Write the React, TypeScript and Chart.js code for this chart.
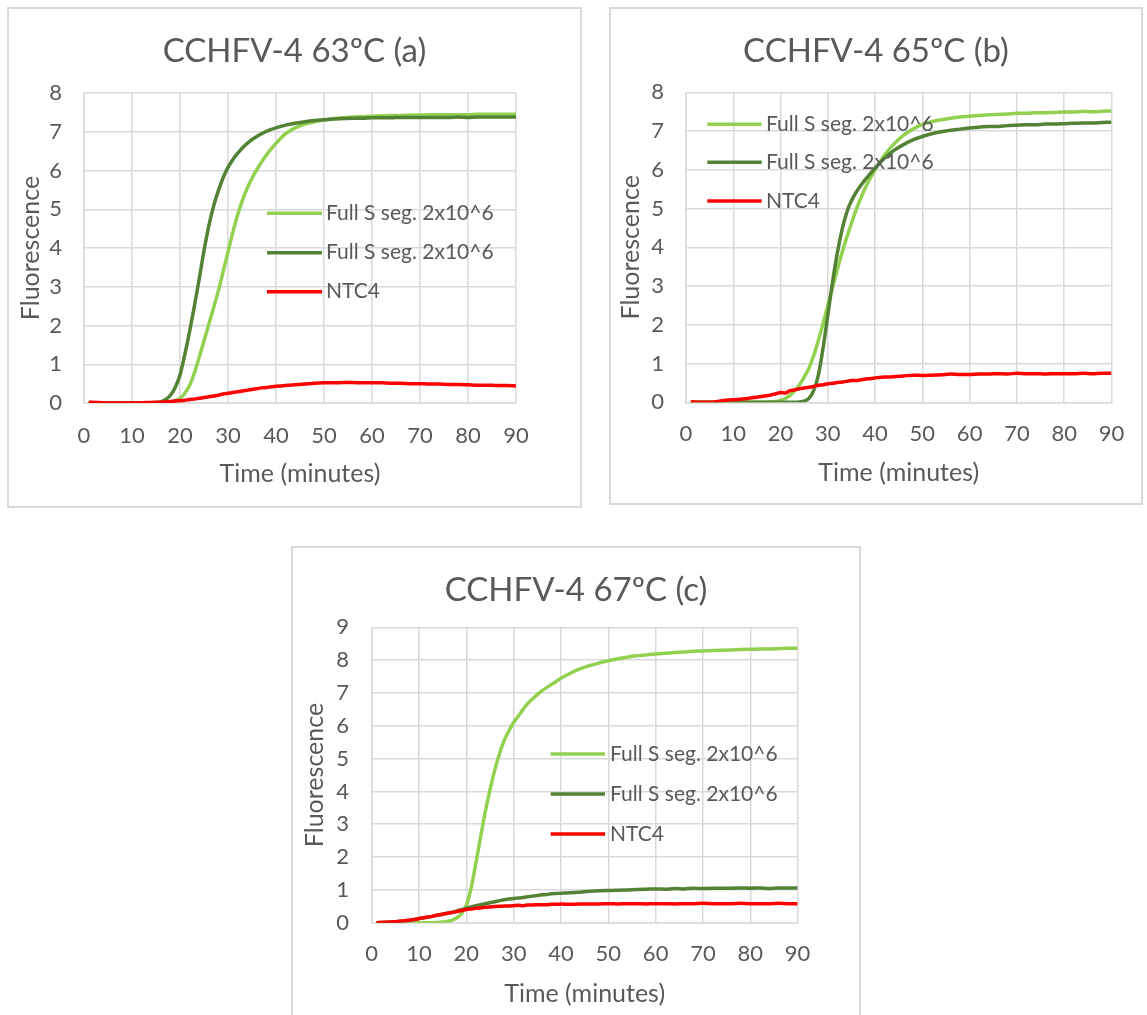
import React, { useEffect, useRef } from 'react';
import { Chart, registerables } from 'chart.js';

Chart.register(...registerables);

// ---------- data ----------
const TIME = [1, 3, 5, 7, 9, 11, 13, 15,
  16, 17, 18, 19, 20, 21, 22, 23, 24, 25,
  26, 27, 28, 29, 30, 31, 32, 33, 34, 35,
  36, 37, 38, 39, 40,
  42, 44, 46, 48, 50, 52, 54, 56, 58, 60,
  62, 64, 66, 68, 70, 72, 74, 76, 78, 80,
  82, 84, 86, 88, 90];

const SERIES_LABELS = ['Full S seg. 2x10^6', 'Full S seg. 2x10^6', 'NTC4'];
const TITLES = ['CCHFV-4 63ºC (a)', 'CCHFV-4 65ºC (b)', 'CCHFV-4 67ºC (c)'];
const X_TITLE = 'Time (minutes)';
const Y_TITLE = 'Fluorescence';
const X_MAX = 90;
const X_STEP = 10;
const Y_MAX = [8, 8, 9];

const A_LIGHT = [0.01, 0, 0, 0, 0, 0, 0, 0,
  0, 0.01, 0.02, 0.06, 0.12, 0.25, 0.45, 0.78, 1.18, 1.6,
  2.03, 2.46, 2.9, 3.4, 3.9, 4.4, 4.85, 5.23, 5.54, 5.8,
  6.02, 6.22, 6.4, 6.56, 6.7,
  6.95, 7.1, 7.2, 7.26, 7.3, 7.34, 7.36, 7.38, 7.39, 7.4,
  7.41, 7.42, 7.42, 7.43, 7.43, 7.44, 7.44, 7.44, 7.44, 7.44,
  7.45, 7.45, 7.45, 7.45, 7.45];
const A_DARK = [0.01, 0, 0, 0, 0, 0, 0, 0.01,
  0.03, 0.09, 0.2, 0.4, 0.72, 1.25, 1.85, 2.5, 3.2, 3.93,
  4.57, 5.08, 5.48, 5.82, 6.08, 6.28, 6.44, 6.58, 6.7, 6.8,
  6.88, 6.95, 7.01, 7.06, 7.1,
  7.17, 7.22, 7.26, 7.29, 7.31, 7.33, 7.34, 7.35, 7.35, 7.36,
  7.36, 7.36, 7.37, 7.37, 7.37, 7.37, 7.37, 7.37, 7.38, 7.37,
  7.38, 7.38, 7.38, 7.38, 7.38];
const A_RED = [0.02, 0.01, 0, 0, 0, 0, 0.01, 0.02,
  0.02, 0.03, 0.04, 0.05, 0.06, 0.07, 0.09, 0.1, 0.12, 0.14,
  0.16, 0.18, 0.2, 0.23, 0.25, 0.27, 0.29, 0.31, 0.33, 0.35,
  0.37, 0.39, 0.4, 0.42, 0.43,
  0.45, 0.47, 0.49, 0.51, 0.52, 0.52, 0.53, 0.53, 0.52, 0.52,
  0.52, 0.51, 0.51, 0.5, 0.5, 0.49, 0.49, 0.48, 0.48, 0.47,
  0.46, 0.46, 0.45, 0.45, 0.44];

const B_LIGHT = [0, 0, 0, 0, 0, 0, 0, 0,
  0, 0, 0.01, 0.02, 0.05, 0.1, 0.18, 0.3, 0.45, 0.65,
  0.88, 1.2, 1.6, 2.03, 2.5, 2.97, 3.42, 3.85, 4.25, 4.62,
  4.97, 5.28, 5.55, 5.79, 6.0,
  6.38, 6.67, 6.89, 7.05, 7.17, 7.24, 7.29, 7.33, 7.36, 7.38,
  7.4, 7.42, 7.43, 7.44, 7.46, 7.46, 7.47, 7.47, 7.48, 7.49,
  7.49, 7.51, 7.5, 7.51, 7.52];
const B_DARK = [0, 0, 0, 0, 0, 0, 0, 0,
  0, 0, 0, 0, 0, 0, 0, 0, 0.01, 0.03,
  0.1, 0.3, 0.7, 1.4, 2.25, 3.1, 3.85, 4.45, 4.9, 5.2,
  5.42, 5.6, 5.76, 5.9, 6.05,
  6.3, 6.5, 6.65, 6.77, 6.86, 6.93, 6.98, 7.02, 7.05, 7.08,
  7.1, 7.12, 7.12, 7.14, 7.15, 7.16, 7.16, 7.18, 7.18, 7.19,
  7.2, 7.21, 7.21, 7.22, 7.23];
const B_RED = [0.01, 0, 0, 0.03, 0.06, 0.07, 0.1, 0.13,
  0.15, 0.17, 0.19, 0.22, 0.25, 0.24, 0.3, 0.32, 0.35, 0.37,
  0.39, 0.41, 0.44, 0.45, 0.48, 0.49, 0.51, 0.52, 0.54, 0.56,
  0.56, 0.58, 0.6, 0.61, 0.63,
  0.65, 0.66, 0.68, 0.7, 0.69, 0.7, 0.71, 0.73, 0.72, 0.72,
  0.73, 0.73, 0.74, 0.73, 0.75, 0.74, 0.74, 0.73, 0.74, 0.74,
  0.74, 0.75, 0.74, 0.75, 0.75];

const C_LIGHT = [0, 0, 0, 0, 0, 0, 0, 0.02,
  0.04, 0.08, 0.15, 0.28, 0.52, 1.05, 1.8, 2.6, 3.38, 4.05,
  4.65, 5.15, 5.55, 5.85, 6.1, 6.3, 6.5, 6.68, 6.82, 6.95,
  7.07, 7.17, 7.26, 7.35, 7.45,
  7.6, 7.73, 7.83, 7.91, 7.98, 8.04, 8.09, 8.13, 8.16, 8.19,
  8.21, 8.23, 8.25, 8.27, 8.28, 8.29, 8.3, 8.31, 8.32, 8.33,
  8.34, 8.34, 8.35, 8.36, 8.36];
const C_DARK = [0, 0.01, 0.03, 0.06, 0.1, 0.15, 0.2, 0.26,
  0.29, 0.32, 0.36, 0.4, 0.44, 0.48, 0.52, 0.55, 0.58, 0.61,
  0.64, 0.67, 0.7, 0.72, 0.74, 0.75, 0.77, 0.79, 0.81, 0.83,
  0.85, 0.86, 0.88, 0.89, 0.9,
  0.91, 0.93, 0.96, 0.97, 0.98, 0.99, 1.0, 1.01, 1.02, 1.03,
  1.02, 1.04, 1.03, 1.05, 1.04, 1.05, 1.05, 1.05, 1.06, 1.05,
  1.06, 1.04, 1.06, 1.06, 1.06];
const C_RED = [0, 0.01, 0.03, 0.06, 0.1, 0.15, 0.2, 0.26,
  0.29, 0.31, 0.34, 0.37, 0.4, 0.42, 0.44, 0.45, 0.47, 0.48,
  0.49, 0.5, 0.51, 0.51, 0.52, 0.53, 0.52, 0.54, 0.54, 0.55,
  0.55, 0.55, 0.56, 0.56, 0.57,
  0.56, 0.57, 0.57, 0.57, 0.58, 0.57, 0.58, 0.58, 0.57, 0.58,
  0.58, 0.57, 0.58, 0.58, 0.59, 0.58, 0.58, 0.58, 0.59, 0.58,
  0.58, 0.58, 0.59, 0.58, 0.58];

const SERIES = [
  [A_LIGHT, A_DARK, A_RED],
  [B_LIGHT, B_DARK, B_RED],
  [C_LIGHT, C_DARK, C_RED],
];

// ---------- styles ----------
const COLORS = ['#92D050', '#548235', '#FF0000'];
const TEXT = '#595959';
const GRID = '#d9d9d9';
const FAMILY = 'Lato, "Open Sans", sans-serif';
const TITLE_SIZE = 33;
const AXIS_TITLE_SIZE = 25;
const TICK_SIZE = 22;
const LEGEND_SIZE = 21;
const LINE_W = 3.5;

type Layout = {
  left: number; top: number; w: number; h: number;
  boxW: number; boxH: number;
  L: number; R: number; T: number; B: number;
  titleY: number; xTickOff: number; xTitleY: number;
  yTickGap: number; yTitleX: number;
  lx0: number; lx1: number; ltx: number; rows: number[];
};

const LAYOUTS: Layout[] = [
  { left: 7, top: 7, w: 575, h: 500, boxW: 575, boxH: 501,
    L: 77, R: 509, T: 86, B: 396, titleY: 44, xTickOff: 33, xTitleY: 467,
    yTickGap: 22, yTitleX: 24, lx0: 260, lx1: 315, ltx: 319, rows: [206.3, 245.7, 284.7] },
  { left: 609, top: 7, w: 534, h: 498, boxW: 534, boxH: 498,
    L: 77, R: 506, T: 85.3, B: 395.3, titleY: 44, xTickOff: 32, xTitleY: 466,
    yTickGap: 22, yTitleX: 22, lx0: 98.3, lx1: 152.7, ltx: 157, rows: [117.3, 155.3, 194] },
  { left: 291, top: 546, w: 570, h: 469, boxW: 570, boxH: 480,
    L: 80.7, R: 506.6, T: 81.3, B: 376.7, titleY: 44, xTickOff: 31.5, xTitleY: 448,
    yTickGap: 22.7, yTitleX: 24, lx0: 259.7, lx1: 314, ltx: 319, rows: [208, 248, 288] },
];

const manualLegend = {
  id: 'manualLegend',
  afterDatasetsDraw(chart: any, _args: any, opts: any) {
    const ctx = chart.ctx;
    ctx.save();
    chart.data.datasets.forEach((ds: any, i: number) => {
      const y = opts.rows[i];
      ctx.strokeStyle = ds.borderColor;
      ctx.lineWidth = LINE_W;
      ctx.lineCap = 'butt';
      ctx.beginPath();
      ctx.moveTo(opts.x0, y);
      ctx.lineTo(opts.x1, y);
      ctx.stroke();
      ctx.fillStyle = TEXT;
      ctx.font = `${LEGEND_SIZE}px ${FAMILY}`;
      ctx.textBaseline = 'middle';
      ctx.textAlign = 'left';
      ctx.fillText(ds.label, opts.tx, y);
    });
    ctx.restore();
  },
};

function FluoChart({ index }: { index: number }) {
  const ref = useRef<HTMLCanvasElement | null>(null);
  const lay = LAYOUTS[index];

  useEffect(() => {
    if (!ref.current) return;
    const vals = SERIES[index];
    const datasets = SERIES_LABELS.map((label, i) => ({
      label,
      data: TIME.map((t, k) => ({ x: t, y: vals[i][k] })),
      borderColor: COLORS[i],
      backgroundColor: COLORS[i],
      borderWidth: LINE_W,
      pointRadius: 0,
      fill: false,
      cubicInterpolationMode: 'monotone' as const,
      order: 2 - i,
    }));
    const titlePadTop = lay.titleY - 0.6 * TITLE_SIZE;
    const titlePadBottom = lay.T - titlePadTop - 1.2 * TITLE_SIZE;
    const chart = new Chart(ref.current, {
      type: 'line',
      data: { datasets },
      plugins: [manualLegend],
      options: {
        responsive: false,
        animation: false,
        events: [],
        layout: { padding: 0 },
        plugins: {
          legend: { display: false },
          tooltip: { enabled: false },
          title: {
            display: true,
            text: TITLES[index],
            color: TEXT,
            font: { family: FAMILY, size: TITLE_SIZE, weight: 'normal', lineHeight: 1.2 },
            padding: { top: titlePadTop, bottom: titlePadBottom },
          },
          manualLegend: { x0: lay.lx0, x1: lay.lx1, tx: lay.ltx, rows: lay.rows },
        } as any,
        scales: {
          x: {
            type: 'linear',
            min: 0,
            max: X_MAX,
            ticks: {
              stepSize: X_STEP,
              color: TEXT,
              font: { family: FAMILY, size: TICK_SIZE, lineHeight: 1.2 },
              padding: lay.xTickOff - 0.6 * TICK_SIZE,
              maxRotation: 0,
            },
            grid: { color: GRID, lineWidth: 1.5, drawTicks: false },
            border: { color: GRID, width: 1.5 },
            title: {
              display: true,
              text: X_TITLE,
              color: TEXT,
              font: { family: FAMILY, size: AXIS_TITLE_SIZE, lineHeight: 1.2 },
              padding: { top: 0, bottom: lay.h - lay.xTitleY - 0.6 * AXIS_TITLE_SIZE },
            },
            afterFit: (s: any) => { s.height = lay.h - lay.B; },
          },
          y: {
            type: 'linear',
            position: 'left',
            min: 0,
            max: Y_MAX[index],
            ticks: {
              stepSize: 1,
              color: TEXT,
              font: { family: FAMILY, size: TICK_SIZE, lineHeight: 1.2 },
              padding: lay.yTickGap,
            },
            grid: { color: GRID, lineWidth: 1.5, drawTicks: false },
            border: { color: GRID, width: 1.5 },
            title: {
              display: true,
              text: Y_TITLE,
              color: TEXT,
              font: { family: FAMILY, size: AXIS_TITLE_SIZE, lineHeight: 1.2 },
              padding: { top: lay.yTitleX - 0.6 * AXIS_TITLE_SIZE, bottom: 0 },
            },
            afterFit: (s: any) => { s.width = lay.L; },
          },
          yRight: {
            type: 'linear',
            position: 'right',
            display: true,
            grid: { display: false, drawTicks: false },
            border: { display: false },
            ticks: { display: false },
            afterFit: (s: any) => { s.width = lay.w - lay.R; },
          },
        } as any,
      },
    });
    return () => chart.destroy();
  }, [index]);

  return (
    <>
      <div
        style={{
          position: 'absolute', left: lay.left, top: lay.top,
          width: lay.boxW, height: lay.boxH,
          border: `2px solid ${GRID}`, boxSizing: 'border-box', background: '#fff',
        }}
      />
      <canvas
        ref={ref}
        width={lay.w}
        height={lay.h}
        style={{ position: 'absolute', left: lay.left, top: lay.top, width: lay.w, height: lay.h, display: 'block' }}
      />
    </>
  );
}

export default function App() {
  return (
    <div style={{ position: 'absolute', left: 0, top: 0, width: 1147, height: 1015, overflow: 'hidden', background: '#fff' }}>
      <FluoChart index={0} />
      <FluoChart index={1} />
      <FluoChart index={2} />
    </div>
  );
}
